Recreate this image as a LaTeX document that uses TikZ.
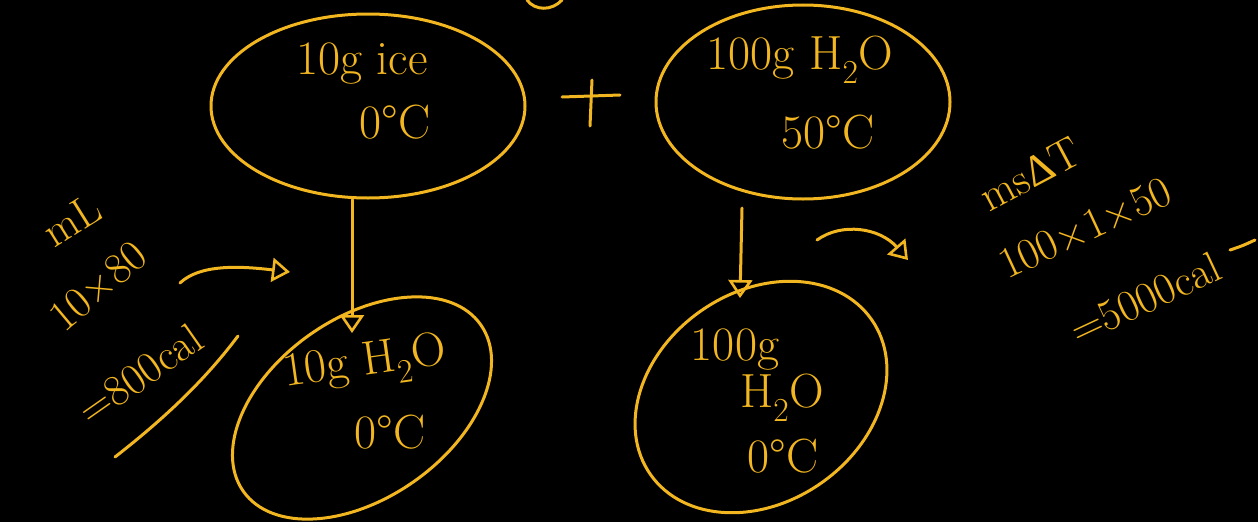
\documentclass[tikz,border=0pt]{standalone}
\usepackage{fontspec}
\newfontfamily\grfont{Liberation Serif}
\usetikzlibrary{shapes.geometric,arrows.meta}
\definecolor{ink}{RGB}{242,182,32}
\begin{document}
\begin{tikzpicture}[x=1pt,y=-1pt,
  blob/.style={ellipse, draw=ink, line width=3pt, inner sep=0pt},
  hand/.style={text=ink, font=\fontsize{48}{52}\selectfont\addfontfeatures{LetterSpace=6}, inner sep=0pt, align=center},
  note/.style={text=ink, font=\fontsize{44}{48}\selectfont\addfontfeatures{LetterSpace=12}, inner sep=0pt},
  stroke/.style={draw=ink, line width=3pt, line cap=round},
  flow/.style={stroke, -{Triangle[open, length=18pt, width=24pt, line width=2.6pt]}}]
\fill[black] (0,0) rectangle (1258,522);
\useasboundingbox (0,0) rectangle (1258,522);
% ellipses
\node[blob, minimum width=314pt, minimum height=184pt] (ice) at (368,106) {};
\node[blob, minimum width=294pt, minimum height=194pt] (hot) at (803,102) {};
\node[blob, minimum width=290pt, minimum height=180pt, rotate=35] (melt) at (362,408) {};
\node[blob, minimum width=270pt, minimum height=210pt, rotate=35] (cool) at (761,397) {};
% texts in ellipses
\node[hand] (t1a) at (362,64) {10g ice};
\node[hand] (t1b) at (395,122) {0°C};
\node[hand] (t2a) at (800,60) {100g H\textsubscript{2}O};
\node[hand] (t2b) at (828,132) {50°C};
\node[hand, rotate=8] (t3a) at (365,365) {10g H\textsubscript{2}O};
\node[hand] (t3b) at (390,432) {0°C};
\node[hand] (t4a) at (735,350) {100g};
\node[hand] (t4b) at (782,398) {H\textsubscript{2}O};
\node[hand] (t4c) at (783,456) {0°C};
% plus
\coordinate (pl) at (562,97); \coordinate (pr) at (620,95);
\coordinate (pt) at (592,80); \coordinate (pb) at (590,126);
\draw[stroke] (pl) -- (pr);
\draw[stroke] (pt) -- (pb);
% vertical arrows
\draw[flow] (ice.south) ++(-16pt,0) coordinate (a1) -- (melt.north -| a1);
\draw[flow] (742,208) coordinate (a2) -- (740,298) coordinate (a2e);
% left annotation
\node[note, rotate=32] (mL) at (72,220) {mL};
\node[note, rotate=40] (lat) at (98,286) {10×80};
\node[note, rotate=35] (q1) at (140,374) {=800cal};
\coordinate (c1s) at (180,283); \coordinate (c1e) at (290,272);
\draw[flow] (c1s) .. controls (200,264) and (240,266) .. (c1e);
\coordinate (u1s) at (115,457); \coordinate (u1e) at (238,336);
\draw[stroke] (u1s) .. controls (165,418) and (205,380) .. (u1e);
% right annotation
\node[note, rotate=28] (msdt) at (1030,174) {ms{\grfont Δ}T};
\node[note, rotate=25] (calc) at (1085,228) {100×1×50};
\node[note, rotate=25] (q2) at (1145,298) {=5000cal};
\coordinate (c2s) at (817,240); \coordinate (c2e) at (908,260);
\draw[flow] (c2s) .. controls (842,222) and (880,228) .. (c2e);
\coordinate (tl) at (1230,250); \coordinate (tr) at (1255,240);
\draw[stroke] (tl) .. controls (1242,246) .. (tr);
% top fragment
\coordinate (fa) at (527,0); \coordinate (fb) at (562,0);
\draw[stroke] (fa) .. controls (535,11) and (552,11) .. (fb);
\end{tikzpicture}
\end{document}
